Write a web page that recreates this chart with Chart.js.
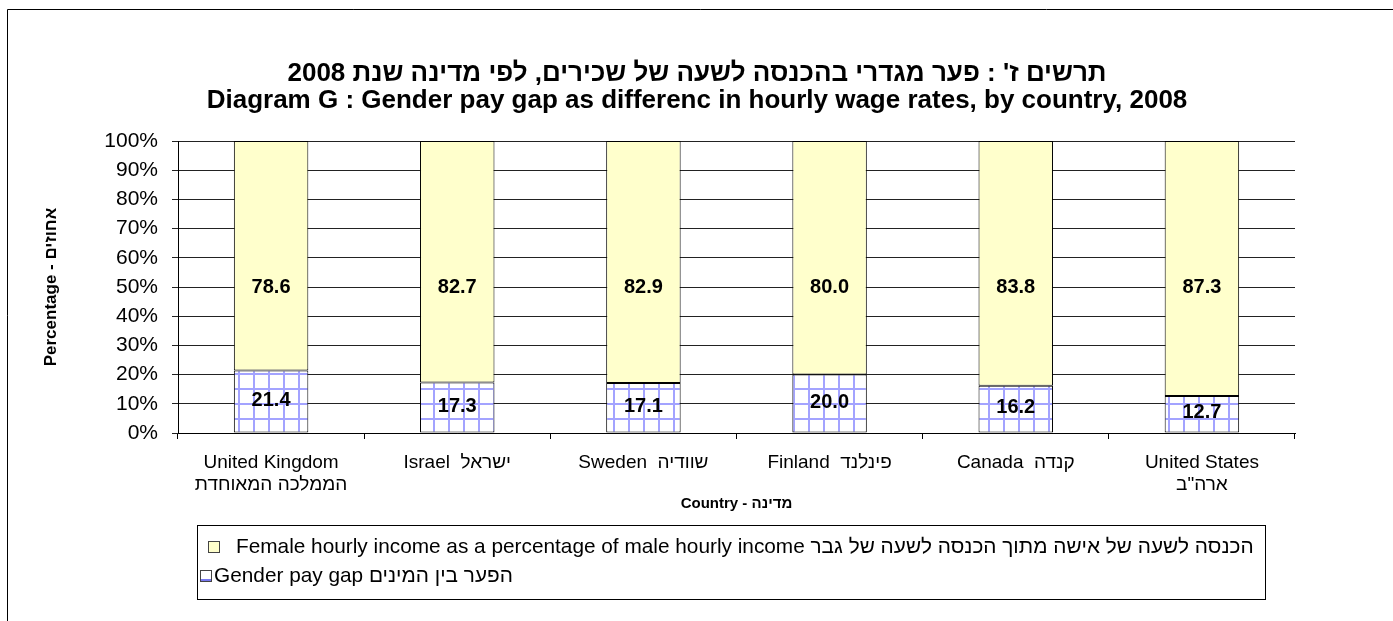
<!DOCTYPE html>
<html>
<head>
<meta charset="utf-8">
<script src="https://cdn.jsdelivr.net/npm/chart.js@4.4.1/dist/chart.umd.min.js"></script>
<style>
  html, body { margin: 0; padding: 0; background: #fff; }
  #wrap { position: relative; width: 1393px; height: 621px; }
</style>
</head>
<body>
<div id="wrap"><canvas id="chart-gap" width="1393" height="621"></canvas></div>
<script>
{ // scoping

// chart data
const countries = [
  ["United Kingdom", "הממלכה המאוחדת"],
  "Israel  ישראל",
  "Sweden  שוודיה",
  "Finland  פינלנד",
  "Canada  קנדה",
  ["United States", "ארה\"ב"]
];
const gapValues = [21.4, 17.3, 17.1, 20.0, 16.2, 12.7];
const femaleValues = [78.6, 82.7, 82.9, 80.0, 83.8, 87.3];
const yTickValues = [0, 10, 20, 30, 40, 50, 60, 70, 80, 90, 100];

const titleLines = [
  "תרשים ז' : פער מגדרי בהכנסה לשעה של שכירים, לפי מדינה שנת 2008",
  "Diagram G : Gender pay gap as differenc in hourly wage rates, by country, 2008"
];
const femaleLabel = "Female hourly income as a percentage of male hourly income הכנסה לשעה של אישה מתוך הכנסה לשעה של גבר";
const gapLabel = "Gender pay gap הפער בין המינים";
const xTitle = "Country - מדינה";
const yTitle = "Percentage - אחוזים";

const FONT = "'Liberation Sans', Arial, sans-serif";

const canvas = document.getElementById('chart-gap');
const ctx = canvas.getContext('2d');

// blue grid fill like the excel pattern
function makeGridPattern() {
  const c = document.createElement('canvas');
  c.width = 15; c.height = 15;
  const g = c.getContext('2d');
  g.fillStyle = '#ffffff';
  g.fillRect(0, 0, 15, 15);
  g.strokeStyle = '#a3a3ff';
  g.lineWidth = 2;
  g.beginPath();
  g.moveTo(0, 14); g.lineTo(15, 14);
  g.moveTo(14, 0); g.lineTo(14, 15);
  g.stroke();
  return ctx.createPattern(c, 'repeat');
}
const gridFill = makeGridPattern();

// white page + frame line on left/top + the two title lines
const framePlugin = {
  id: 'frame',
  beforeDraw(chart) {
    const c = chart.ctx;
    c.save();
    c.fillStyle = '#fff';
    c.fillRect(0, 0, chart.width, chart.height);
    c.strokeStyle = '#000';
    c.lineWidth = 1;
    c.beginPath();
    c.moveTo(7.5, chart.height);
    c.lineTo(7.5, 9.5);
    c.lineTo(chart.width, 9.5);
    c.stroke();

    c.fillStyle = '#000';
    c.font = "bold 26px " + FONT;
    c.textAlign = 'center';
    c.textBaseline = 'middle';
    c.fillText(titleLines[0], 697, 74);
    c.fillText(titleLines[1], 697, 101);
    c.restore();
  }
};

// values written in the bars
const valueLabels = {
  id: 'valueLabels',
  afterDatasetsDraw(chart) {
    const c = chart.ctx;
    const y = chart.scales.y;
    c.save();
    c.font = "bold 20px " + FONT;
    c.fillStyle = '#000';
    c.textAlign = 'center';
    c.textBaseline = 'middle';
    chart.data.datasets.forEach((ds, i) => {
      const meta = chart.getDatasetMeta(i);
      meta.data.forEach((bar, j) => {
        const v = ds.data[j];
        const py = i === 0 ? y.getPixelForValue(v / 2 + 0.6) : y.getPixelForValue(50);
        c.fillText(v.toFixed(1), bar.x, py);
      });
    });
    c.restore();
  }
};

// boxed legend under the axis title
const boxLegend = {
  id: 'boxLegend',
  afterDraw(chart) {
    const c = chart.ctx;
    const ds = chart.data.datasets;
    c.save();
    c.strokeStyle = '#000';
    c.lineWidth = 1;
    c.strokeRect(197.5, 525.5, 1068, 74);
    c.font = "20.8px " + FONT;
    c.fillStyle = '#000';
    c.textBaseline = 'middle';
    c.textAlign = 'left';
    c.direction = 'ltr';

    // female row
    c.fillStyle = ds[1].backgroundColor;
    c.fillRect(208.5, 541.5, 11, 11);
    c.strokeStyle = '#444';
    c.strokeRect(208.5, 541.5, 11, 11);
    c.fillStyle = '#000';
    c.fillText(ds[1].label, 236, 547);

    // gap row
    c.fillStyle = '#fff';
    c.fillRect(200.5, 570.5, 11, 11);
    c.fillStyle = '#7777ee';
    c.fillRect(201, 579, 10, 2);
    c.strokeStyle = '#444';
    c.strokeRect(200.5, 570.5, 11, 11);
    c.fillStyle = '#000';
    c.fillText(ds[0].label, 214, 576);
    c.restore();
  }
};

new Chart(ctx, {
  type: 'bar',
  data: {
    labels: countries,
    datasets: [{
      label: gapLabel,
      data: gapValues,
      backgroundColor: gridFill,
      borderColor: '#000',
      borderWidth: 1,
      borderSkipped: false,
      categoryPercentage: 1,
      barPercentage: 0.4
    }, {
      label: femaleLabel,
      data: femaleValues,
      backgroundColor: '#ffffcc',
      borderColor: '#000',
      borderWidth: 1,
      borderSkipped: false,
      categoryPercentage: 1,
      barPercentage: 0.4
    }]
  },
  options: {
    responsive: false,
    animation: false,
    layout: { padding: { top: 141, left: 30, right: 98, bottom: 101 } },
    plugins: {
      legend: { display: false },
      tooltip: { enabled: false },
      title: { display: false }
    },
    scales: {
      x: {
        stacked: true,
        offset: true,
        afterFit(scale) { scale.height = 87; },
        grid: { offset: true, drawOnChartArea: false, color: '#000', tickLength: 6 },
        border: { color: '#000' },
        ticks: {
          color: '#000',
          padding: 13,
          maxRotation: 0,
          autoSkip: false,
          font: { family: FONT, size: 19, lineHeight: 1.15 }
        },
        title: {
          display: true,
          text: xTitle,
          color: '#000',
          font: { family: FONT, size: 15, weight: 'bold', lineHeight: 1.2 },
          padding: { top: 0, bottom: 7 }
        }
      },
      y: {
        stacked: true,
        min: 0,
        max: 100,
        afterFit(scale) { scale.width = 148; },
        afterBuildTicks(scale) { scale.ticks = yTickValues.map(v => ({ value: v })); },
        grid: { color: '#222', tickLength: 6 },
        border: { color: '#000' },
        ticks: {
          color: '#000',
          padding: 14,
          font: { family: FONT, size: 21 },
          callback: v => v + '%'
        },
        title: {
          display: true,
          text: yTitle,
          color: '#000',
          font: { family: FONT, size: 17, weight: 'bold', lineHeight: 1.2 },
          padding: { top: 11, bottom: 0 }
        }
      }
    }
  },
  plugins: [framePlugin, valueLabels, boxLegend]
});

} // scoping
</script>
</body>
</html>
